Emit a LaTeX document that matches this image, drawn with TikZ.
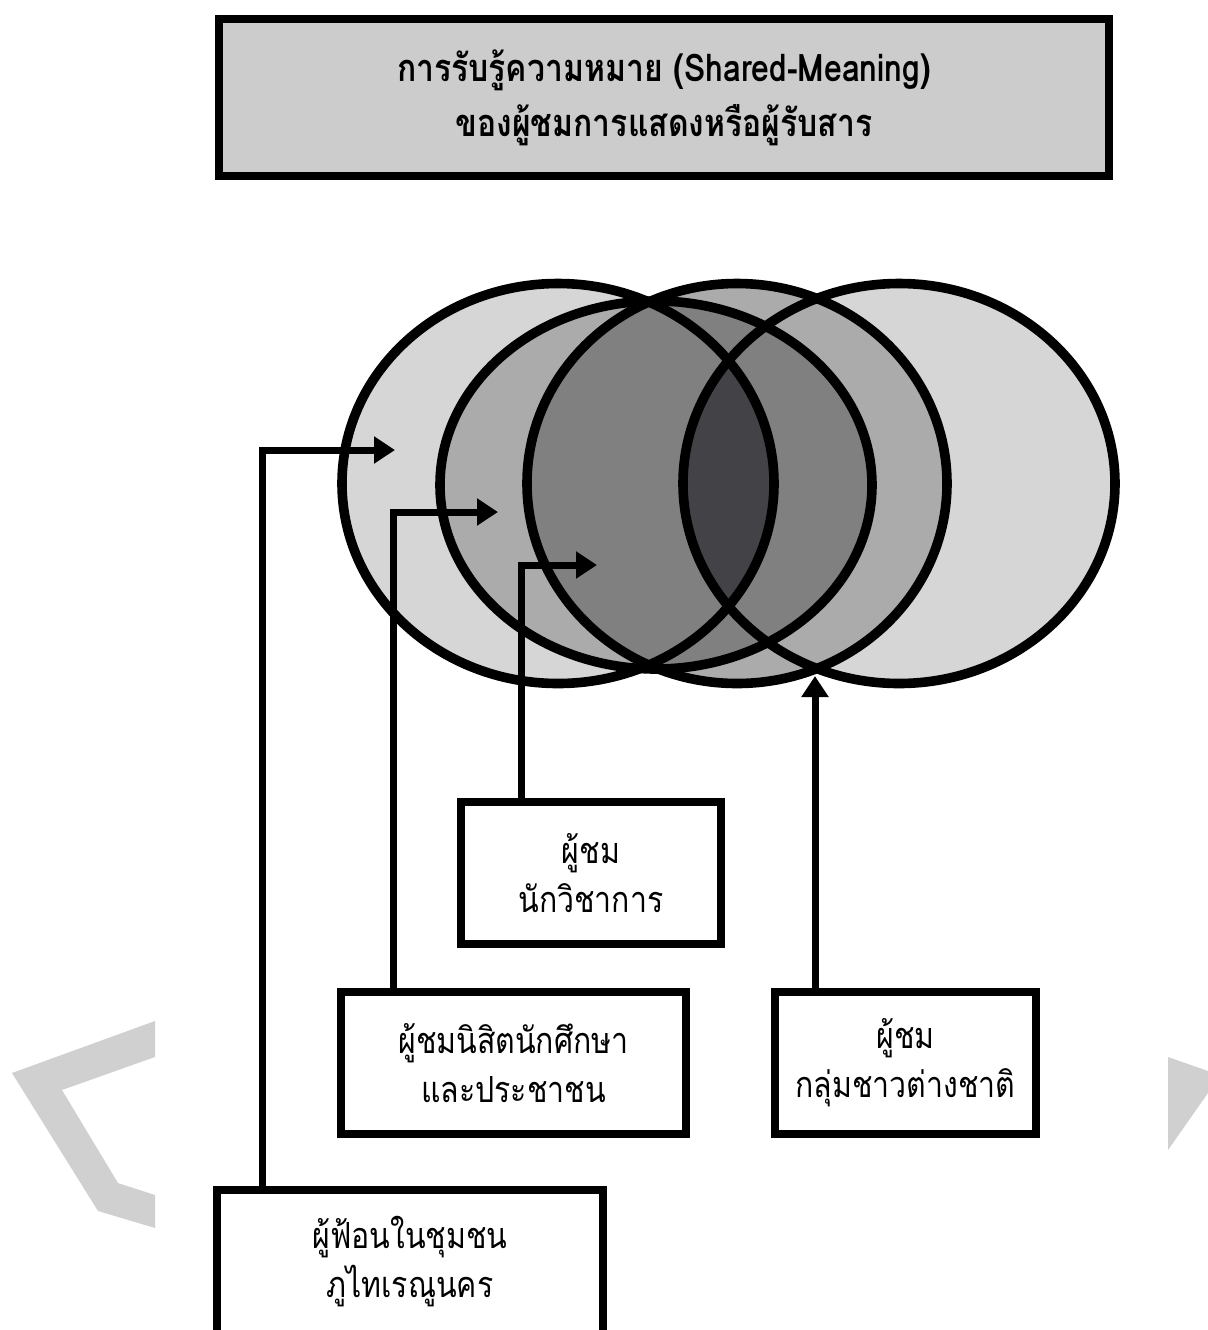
\documentclass[tikz,border=0pt]{standalone}
\usepackage{fontspec}
\newfontfamily\thaifont[Script=Thai,FakeStretch=0.84]{Loma}
\usetikzlibrary{arrows.meta}
\definecolor{gzero}{HTML}{D6D6D6}
\definecolor{gone}{HTML}{ABABAB}
\definecolor{gtwo}{HTML}{808080}
\definecolor{gthree}{HTML}{434347}
\definecolor{titlefill}{HTML}{CCCCCC}
\definecolor{wmark}{HTML}{D0D0D0}
\begin{document}
\begin{tikzpicture}[x=0.5pt,y=-0.5pt,
  ring/.style={draw=black,line width=4.8pt},
  boxstyle/.style={draw=black,line width=4pt,inner sep=0pt,outer sep=0pt,
    align=center,font=\thaifont\fontsize{18}{24.5}\selectfont},
  titlestyle/.style={boxstyle,fill=titlefill,
    font=\thaifont\bfseries\fontsize{19}{27.5}\selectfont},
  conn/.style={draw=black,line width=3.5pt,-{Triangle[length=10.5pt,width=13pt]}}]
\useasboundingbox (0,0) rectangle (1208,1330);
\clip (0,0) rectangle (1208,1330);
% watermark shapes
\fill[wmark] (12,1073) -- (155,1021) -- (155,1057) -- (62,1090) -- (118,1183) -- (155,1195) -- (155,1228) -- (98,1211) -- cycle;
\fill[wmark] (1168,1057) -- (1208,1071) -- (1208,1093) -- (1168,1150) -- cycle;
% ellipses
\def\elA{(558,483.5) ellipse [x radius=216, y radius=200]}
\def\elB{(656,485) ellipse [x radius=216, y radius=184]}
\def\elC{(737,483.5) ellipse [x radius=210, y radius=200]}
\def\elD{(899,483.5) ellipse [x radius=216, y radius=200]}
\fill[gzero] \elA;
\fill[gzero] \elD;
\fill[gone] \elB;
\fill[gone] \elC;
\begin{scope}
  \clip \elB;
  \fill[gtwo] \elC;
\end{scope}
\begin{scope}
  \clip \elA;
  \fill[gthree] \elD;
\end{scope}
\draw[ring] \elA;
\draw[ring] \elB;
\draw[ring] \elC;
\draw[ring] \elD;
% title
\node[titlestyle,minimum width=445pt,minimum height=78.5pt] (title) at (664,97.5)
  {การรับรู้ความหมาย (Shared-Meaning)\\ของผู้ชมการแสดงหรือผู้รับสาร};
% boxes
\node[boxstyle,minimum width=130pt,minimum height=71pt] (b1) at (591,873) {ผู้ชม\\นักวิชาการ};
\node[boxstyle,minimum width=172.5pt,minimum height=71pt] (b2) at (513.5,1063) {ผู้ชมนิสิตนักศึกษา\\และประชาชน};
\node[boxstyle,minimum width=130.5pt,minimum height=71pt] (b3) at (905.5,1063) {ผู้ชม\\กลุ่มชาวต่างชาติ};
\node[boxstyle,minimum width=193pt,minimum height=72pt] (b4) at (410,1262) {ผู้ฟ้อนในชุมชน\\ภูไทเรณูนคร};
% connector targets
\coordinate (k4) at (262,450);
\coordinate (t4) at (395,450);
\coordinate (k2) at (393,512);
\coordinate (t2) at (498,512);
\coordinate (k1) at (521,565);
\coordinate (t1) at (597,565);
\coordinate (t3) at (815,676);
\draw[conn] (b4.north -| k4) |- (t4);
\draw[conn] (b2.north -| k2) |- (t2);
\draw[conn] (b1.north -| k1) |- (t1);
\draw[conn] (b3.north -| t3) -- (t3);
\end{tikzpicture}
\end{document}
